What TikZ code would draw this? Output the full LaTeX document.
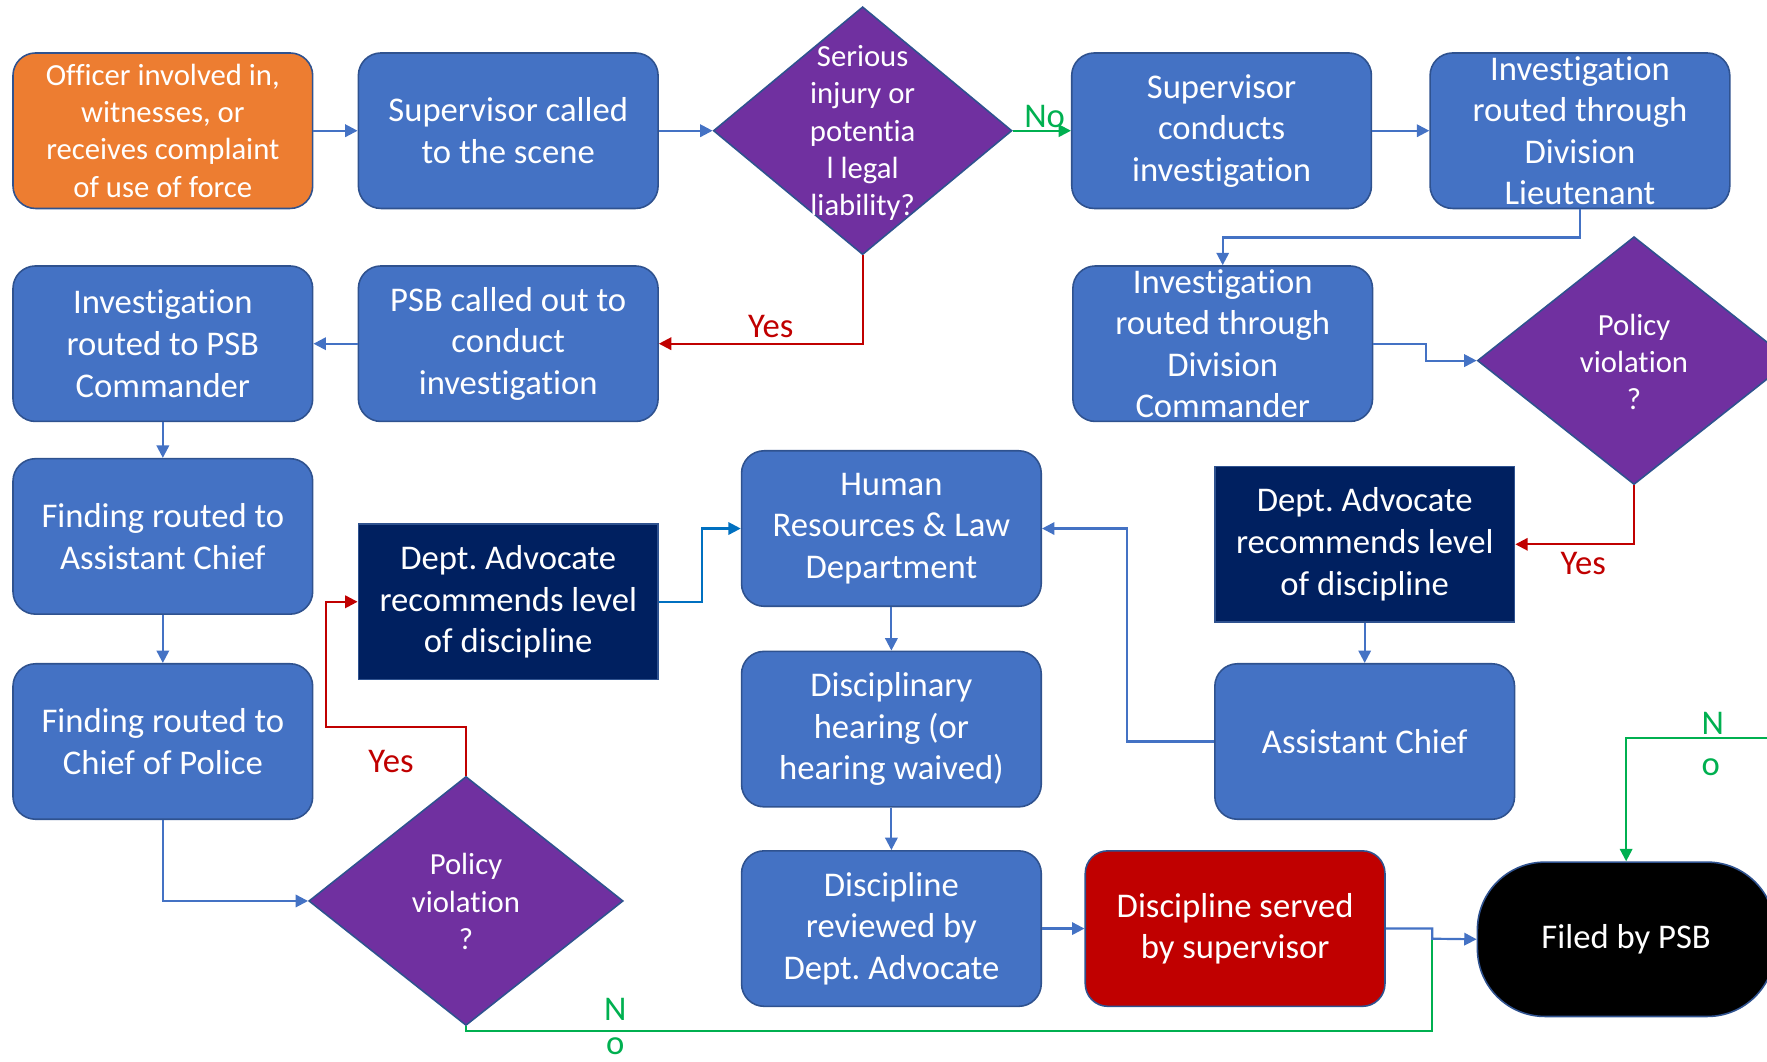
\documentclass[tikz,border=0pt]{standalone}
\usepackage{fontspec}
\setmainfont{Carlito}[Ligatures=NoCommon]
\frenchspacing
\usetikzlibrary{shapes.geometric,arrows.meta,calc}
\definecolor{boxblue}{HTML}{4472C4}
\definecolor{bord}{HTML}{2F528F}
\definecolor{orangeb}{HTML}{ED7D31}
\definecolor{purp}{HTML}{7030A0}
\definecolor{navy}{HTML}{002060}
\definecolor{redb}{HTML}{C00000}
\definecolor{greenl}{HTML}{00B050}
\definecolor{brightblue}{HTML}{0070C0}
\tikzset{
  base/.style={draw=bord, line width=0.8pt, text=white, align=center, inner sep=0pt,
    font=\fontsize{17.5}{21}\selectfont},
  rbox/.style={base, rounded corners=0.4cm, minimum width=5.32cm, minimum height=2.76cm, fill=boxblue},
  obox/.style={rbox, fill=orangeb, font=\fontsize{15.5}{18.8}\selectfont},
  nbox/.style={base, rounded corners=0pt, minimum width=5.32cm, minimum height=2.76cm, fill=navy},
  redbox/.style={rbox, fill=redb},
  termbox/.style={base, rounded corners=1.2cm, minimum width=5.28cm, minimum height=2.74cm, fill=black},
  dia/.style={diamond, draw=bord, line width=0.8pt, fill=purp, inner sep=0pt},
  dtext/.style={text=white, align=center, inner sep=0pt, font=\fontsize{15.5}{18.8}\selectfont},
  conn/.style={draw=boxblue, line width=1.1pt, -{Triangle[length=0.22cm,width=0.22cm]}},
  connB/.style={conn, draw=brightblue},
  connR/.style={draw=redb, line width=1.1pt, -{Triangle[length=0.22cm,width=0.22cm]}},
  connG/.style={draw=greenl, line width=1.1pt, -{Triangle[length=0.22cm,width=0.22cm]}},
  connGplain/.style={draw=greenl, line width=1.1pt},
  lblR/.style={text=redb, inner sep=0pt, font=\fontsize{17.5}{21}\selectfont},
  lblG/.style={text=greenl, inner sep=0pt, font=\fontsize{17.5}{21}\selectfont},
}
\begin{document}
\begin{tikzpicture}[x=0.02cm,y=-0.02cm]
\useasboundingbox (0,0) rectangle (1568,942);
% row 1
\node[obox] (off) at (144.5,116) {Officer involved in,\\witnesses, or\\receives complaint\\of use of force};
\node[rbox] (sup) at (451,116) {Supervisor called\\to the scene};
\node[dia, minimum width=5.3cm, minimum height=4.4cm] (d1) at (765.5,116) {};
\node[dtext] (d1t) at (765.5,118) {Serious\\injury or\\potentia\\l legal\\liability?};
\node[rbox] (sc) at (1084,116) {Supervisor\\conducts\\investigation};
\node[rbox] (lt) at (1402,116) {Investigation\\routed through\\Division\\Lieutenant};
% row 2
\node[rbox] (cmd) at (144.5,305) {Investigation\\routed to PSB\\Commander};
\node[rbox] (psb) at (451,305) {PSB called out to\\conduct\\investigation};
\node[rbox] (dc) at (1085,305) {Investigation\\routed through\\Division\\Commander};
\node[dia, minimum width=5.56cm, minimum height=4.4cm] (d2) at (1450,320) {};
\node[dtext] (d2t) at (1450,321) {Policy\\violation\\?};
% row 3
\node[rbox] (fac) at (144.5,476) {Finding routed to\\Assistant Chief};
\node[nbox] (da1) at (451,534) {Dept. Advocate\\recommends level\\of discipline};
\node[rbox] (hr) at (791,469) {Human\\Resources \& Law\\Department};
\node[nbox] (da2) at (1211,483) {Dept. Advocate\\recommends level\\of discipline};
% row 4
\node[rbox] (fcp) at (144.5,658) {Finding routed to\\Chief of Police};
\node[rbox] (dh) at (791,647) {Disciplinary\\hearing (or\\hearing waived)};
\node[rbox] (ac) at (1211,658) {Assistant Chief};
\node[dia, minimum width=5.58cm, minimum height=4.42cm] (d3) at (413.5,799.5) {};
\node[dtext] (d3t) at (413.5,800) {Policy\\violation\\?};
% row 5
\node[rbox] (dr) at (791,824) {Discipline\\reviewed by\\Dept. Advocate};
\node[redbox] (ds) at (1096,824) {Discipline served\\by supervisor};
\node[termbox] (fil) at (1443,833.5) {Filed by PSB};

\coordinate (j) at (1271,833);
\coordinate (gstart) at (1600,655);

% connectors
\draw[conn] (off.east) -- (sup.west);
\draw[conn] (sup.east) -- (d1.west);
\draw[connG] (d1.east) -- (sc.west);
\draw[conn] (sc.east) -- (lt.west);
\draw[conn] (lt.south) -- ++(0,25) -| (dc.north);
\draw[conn] (dc.east) -- ++(47,0) |- (d2.west);
\draw[connR] (d1.south) |- (psb.east);
\draw[conn] (psb.west) -- (cmd.east);
\draw[conn] (cmd.south) -- (fac.north);
\draw[conn] (fac.south) -- (fcp.north);
\draw[conn] (fcp.south) |- (d3.west);
\draw[connR] (d3.north) -- ++(0,-43) -| ([xshift=-0.56cm]da1.west) -- (da1.west);
\draw[connGplain] (d3.south) -- ++(0,4) -| (j);
\draw[conn] (ds.east) -- (j |- ds.east) -- (j) -- (fil.west);
\draw[connB] (da1.east) -- ++(38,0) |- (hr.west);
\draw[connR] (d2.south) |- (da2.east);
\draw[conn] (da2.south) -- (ac.north);
\draw[conn] (ac.west) -- ++(-77,0) |- (hr.east);
\draw[conn] (hr.south) -- (dh.north);
\draw[conn] (dh.south) -- (dr.north);
\draw[conn] (dr.east) -- (ds.west);
\draw[connG] (gstart) -| (fil.north);

% labels
\node[lblG] (lno1) at (927,103) {No};
\node[lblR] (lyes1) at (684,290) {Yes};
\node[lblR] (lyes2) at (347,676) {Yes};
\node[lblR] (lyes3) at (1405,500) {Yes};
\node[lblG] (ln2) at (546,896) {N};
\node[lblG] (lo2) at (546,928) {o};
\node[lblG] (ln3) at (1520,642) {N};
\node[lblG] (lo3) at (1518,681) {o};
\end{tikzpicture}
\end{document}
